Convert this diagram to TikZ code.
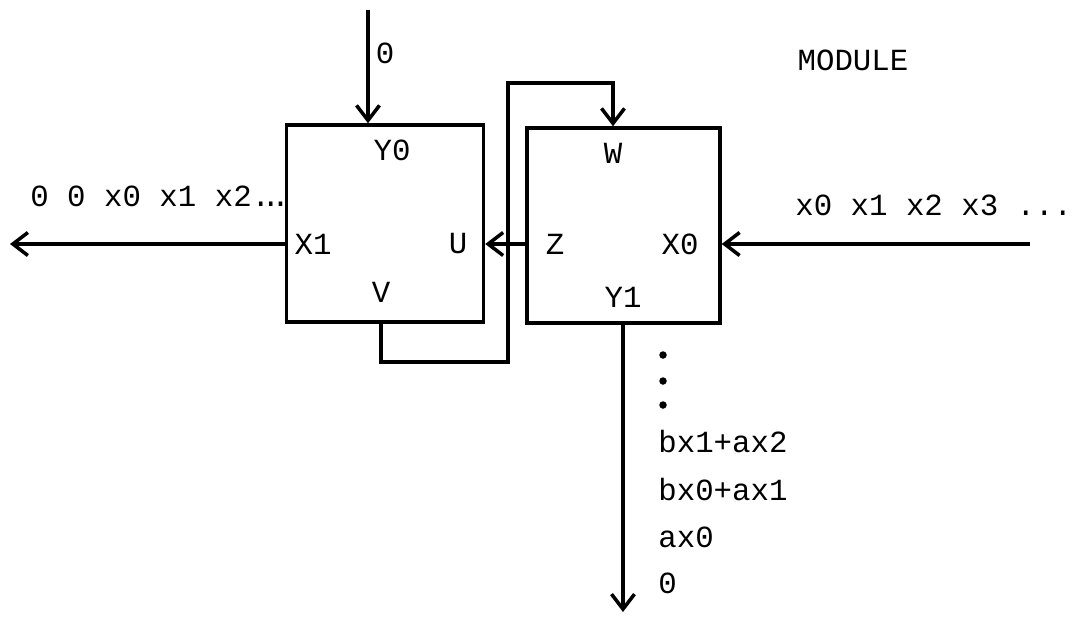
\documentclass[tikz,border=0pt]{standalone}
\usepackage{fontspec}
\setmonofont{Liberation Mono}
\usetikzlibrary{arrows.meta, positioning}

\begin{document}
\begin{tikzpicture}[
    x=0.02cm, y=-0.02cm,
    every node/.style={font=\ttfamily\fontsize{17.5}{21}\selectfont, inner sep=0pt},
    module/.style={
        draw, rectangle, line width=2pt,
        minimum width=3.94cm, minimum height=3.94cm
    },
    seq/.style={anchor=west},
    dotmark/.style={circle, fill, minimum size=0.15cm},
    wire/.style={line width=2pt},
    arrow/.style={wire, -{Straight Barb[length=3mm, width=4.6mm]}}
]
\useasboundingbox (0,0) rectangle (1079,623);

% --- Two modules side by side
\node (lmod) [module] at (385,223.5) {};
\node (rmod) [module, minimum width=3.86cm, minimum height=3.9cm] at (623.5,225.5) {};

% --- Port names of the left module
\node (y0) at (392,150) {Y0};
\node (x1) at (313,244) {X1};
\node (u)  at (458,244) {U};
\node (v)  at (381,292) {V};

% --- Port names of the right module
\node (w)  at (613,153) {W};
\node (z)  at (555,244) {Z};
\node (x0) at (680,244) {X0};
\node (y1) at (623,297) {Y1};

% --- Texts
\node (title)  at (853,60) {MODULE};
\node (zero)   at (385,53) {0};
\node (outseq) [seq] at (30,196) {0 0 x0 x1 x2.\kern-0.28em.\kern-0.28em.};
\node (inseq)  [seq] at (795,205) {x0 x1 x2 x3 ...};
\node (s3) [seq] at (658,442) {bx1+ax2};
\node (s2) [seq] at (658,489) {bx0+ax1};
\node (s1) [seq] at (658,537) {ax0};
\node (s0) [seq] at (658,583) {0};
\node (dot1) [dotmark] at (663,355) {};
\node (dot2) [dotmark] at (663,381) {};
\node (dot3) [dotmark] at (663,405) {};

% --- Free ends
\coordinate (top)   at (368,10);
\coordinate (west)  at (10,244);
\coordinate (east)  at (1030,244);
\coordinate (south) at (623,612);
\coordinate (loopa) at (508,362);
\coordinate (loopb) at (508,83);

% --- Arrows
\draw [arrow] (top) -- (top |- lmod.north);
\draw [arrow] (lmod.west |- x1) -- (west);
\draw [arrow] (rmod.west |- z) -- (lmod.east |- u);
\draw [arrow] (east) -- (rmod.east |- x0);
\draw [arrow] (rmod.south -| y1) -- (south);

% --- Feedback V -> W
\draw [arrow] (lmod.south -| v) |- (loopa) -- (loopb) -| (rmod.north -| w);

\end{tikzpicture}
\end{document}
